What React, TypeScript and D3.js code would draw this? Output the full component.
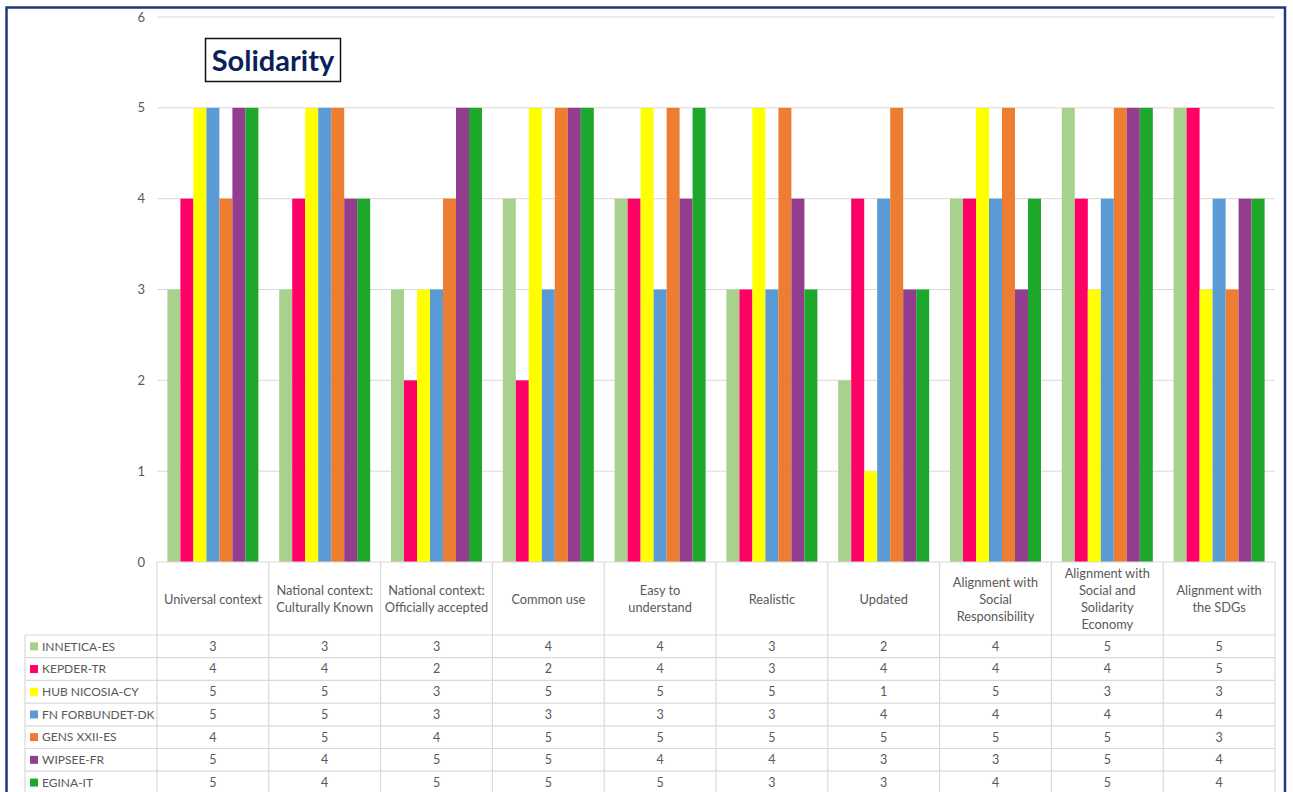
import React from "react";
import * as d3 from "d3";

const categories = [
  "Universal context",
  "National context: Culturally Known",
  "National context: Officially accepted",
  "Common use",
  "Easy to understand",
  "Realistic",
  "Updated",
  "Alignment with Social Responsibility",
  "Alignment with Social and Solidarity Economy",
  "Alignment with the SDGs",
];
const categoryLines = [
  ["Universal context"],
  ["National context:", "Culturally Known"],
  ["National context:", "Officially accepted"],
  ["Common use"],
  ["Easy to", "understand"],
  ["Realistic"],
  ["Updated"],
  ["Alignment with", "Social", "Responsibility"],
  ["Alignment with", "Social and", "Solidarity", "Economy"],
  ["Alignment with", "the SDGs"],
];
const seriesNames = [
  "INNETICA-ES",
  "KEPDER-TR",
  "HUB NICOSIA-CY",
  "FN FORBUNDET-DK",
  "GENS XXII-ES",
  "WIPSEE-FR",
  "EGINA-IT",
];
const seriesColors = ["#a9d18e", "#ff0066", "#ffff00", "#5b9bd5", "#ed7d31", "#933d8f", "#1da72b"];
const innetica = [3, 3, 3, 4, 4, 3, 2, 4, 5, 5];
const kepder = [4, 4, 2, 2, 4, 3, 4, 4, 4, 5];
const hubNicosia = [5, 5, 3, 5, 5, 5, 1, 5, 3, 3];
const fnForbundet = [5, 5, 3, 3, 3, 3, 4, 4, 4, 4];
const gens = [4, 5, 4, 5, 5, 5, 5, 5, 5, 3];
const wipsee = [5, 4, 5, 5, 4, 4, 3, 3, 5, 4];
const egina = [5, 4, 5, 5, 5, 3, 3, 4, 5, 4];
const seriesValues = [innetica, kepder, hubNicosia, fnForbundet, gens, wipsee, egina];
const yTicks = [0, 1, 2, 3, 4, 5, 6];
const title = "Solidarity";

const FONT = "Lato, 'Open Sans', sans-serif";
const TXT = "#595959";
const GRID = "#d9d9d9";

export default function App() {
  const W = 1293, H = 792;
  const left = 157, right = 1275, top = 17, bottom = 562;
  const headerBottom = 635;
  const rowH = 22.7;
  const legendLeft = 25;

  const y = d3.scaleLinear().domain([0, 6]).range([bottom, top]);
  const x0 = d3.scaleBand<string>().domain(categories).range([left, right]).paddingInner(0).paddingOuter(0);
  const x1 = d3.scaleBand<string>().domain(seriesNames).range([0, x0.bandwidth()]).paddingInner(0).paddingOuter(0.8);

  const rowTops = seriesNames.map((_, i) => headerBottom + i * rowH);
  const tableBottom = headerBottom + seriesNames.length * rowH;
  const colEdges = categories.map((c) => x0(c)!).concat([right]);

  return (
    <svg width={W} height={H} style={{ position: "absolute", left: 0, top: 0, background: "#fff" }} fontFamily={FONT}>
      <rect x={0} y={0} width={W} height={H} fill="#fff" />
      {yTicks.map((t) => (
        <g key={t}>
          {t > 0 && <line x1={left} x2={right} y1={y(t)} y2={y(t)} stroke={GRID} strokeWidth={1} />}
          <text x={145} y={y(t)} dy="0.35em" textAnchor="end" fontSize={13} fill={TXT}>{t}</text>
        </g>
      ))}
      {categories.map((c, ci) => (
        <g key={c} transform={`translate(${x0(c)},0)`}>
          {seriesNames.map((s, si) => (
            <rect key={s} x={x1(s)} width={x1.bandwidth()} y={y(seriesValues[si][ci])}
              height={y(0) - y(seriesValues[si][ci])} fill={seriesColors[si]} />
          ))}
        </g>
      ))}
      <g stroke={GRID} strokeWidth={1.2}>
        <line x1={left} x2={right} y1={bottom} y2={bottom} />
        <line x1={legendLeft} x2={right} y1={headerBottom} y2={headerBottom} />
        {rowTops.map((rt, i) => (
          <line key={i} x1={legendLeft} x2={right} y1={rt + rowH} y2={rt + rowH} />
        ))}
        {colEdges.map((xe, i) => (
          <line key={i} x1={xe} x2={xe} y1={bottom} y2={tableBottom} />
        ))}
        <line x1={legendLeft} x2={legendLeft} y1={headerBottom} y2={tableBottom} />
      </g>
      {categories.map((c, ci) => {
        const lines = categoryLines[ci];
        const lh = 17;
        const cy = (bottom + headerBottom) / 2 + 1;
        const cx = x0(c)! + x0.bandwidth() / 2;
        return (
          <text key={c} x={cx} textAnchor="middle" fontSize={12.8} fill={TXT}>
            {lines.map((l, li) => (
              <tspan key={li} x={cx} y={cy + (li - (lines.length - 1) / 2) * lh} dy="0.35em">{l}</tspan>
            ))}
          </text>
        );
      })}
      {seriesNames.map((s, si) => (
        <g key={s}>
          <rect x={30} y={rowTops[si] + rowH / 2 - 4} width={8} height={8} fill={seriesColors[si]} />
          <text x={42} y={rowTops[si] + rowH / 2} dy="0.35em" fontSize={12} fill={TXT}>{s}</text>
          {categories.map((c, ci) => (
            <text key={c} x={x0(c)! + x0.bandwidth() / 2} y={rowTops[si] + rowH / 2} dy="0.35em"
              textAnchor="middle" fontSize={12.5} fill={TXT}>{seriesValues[si][ci]}</text>
          ))}
        </g>
      ))}
      <rect x={205.5} y={38.5} width={135} height={43} fill="#fff" stroke="#111" strokeWidth={1.5} />
      <text x={273} y={61} dy="0.35em" textAnchor="middle" fontSize={29} fontWeight="bold" fill="#0b1f5c">{title}</text>
      <rect x={6.5} y={7.5} width={1278.5} height={H + 10} fill="none" stroke="#1f3a78" strokeWidth={2.5} />
    </svg>
  );
}
